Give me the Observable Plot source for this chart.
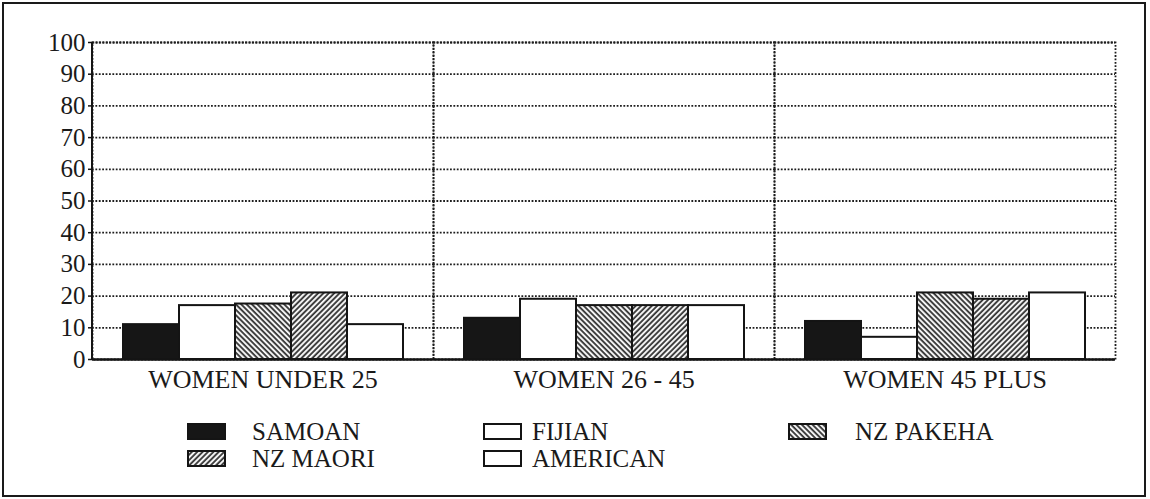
<!DOCTYPE html>
<html>
<head>
<meta charset="utf-8">
<script src="https://cdn.jsdelivr.net/npm/d3@7"></script>
<script src="https://cdn.jsdelivr.net/npm/@observablehq/plot@0.6"></script>
<style>
  html, body { margin: 0; padding: 0; background: #fff; }
  #frame {
    position: absolute; left: 2px; top: 2px;
    width: 1140px; height: 491px;
    border: 2px solid #1a1a1a; background: #fff;
    font-family: "Liberation Serif", "DejaVu Serif", serif; color: #1a1a1a;
  }
  #chart svg { display: block; }
  .swatch { position: absolute; width: 39px; height: 17px; }
  .swatch svg { display: block; }
  .label { position: absolute; height: 17px; display: flex; align-items: center; font-size: 25px; white-space: nowrap; }
</style>
</head>
<body>
<div id="frame">
  <div id="chart"></div>
  <div id="legend"></div>
</div>
<script>
// Age groups along the bottom and the five population series
const groups = ["WOMEN UNDER 25", "WOMEN 26 - 45", "WOMEN 45 PLUS"];
const series = ["SAMOAN", "FIJIAN", "NZ PAKEHA", "NZ MAORI", "AMERICAN"];

// Percentages per series, one value per age group
const samoan   = [11, 13, 12];
const fijian   = [17, 19, 7];
const pakeha   = [17.5, 17, 21];
const maori    = [21, 17, 19];
const american = [11, 17, 21];

const yTicks = [0, 10, 20, 30, 40, 50, 60, 70, 80, 90, 100];

// Solid, blank and hatched fills, one per series
const fills = ["#161616", "#ffffff", "url(#hatch-pakeha)", "url(#hatch-maori)", "#ffffff"];

const values = [samoan, fijian, pakeha, maori, american];
const data = groups.flatMap((g, i) =>
  series.map((s, j) => ({group: g, series: s, value: values[j][i]}))
);

const dotted = {stroke: "#1e1e1e", strokeWidth: 1.8, strokeDasharray: "1.8,1.6"};

const chart = Plot.plot({
  width: 1140,
  height: 400,
  marginLeft: 88,
  marginRight: 29,
  marginTop: 38,
  marginBottom: 45,
  style: {fontFamily: "Liberation Serif, DejaVu Serif, serif", color: "#1a1a1a", background: "white", overflow: "visible"},
  fx: {domain: groups, padding: 0, label: null},
  x: {domain: series, paddingInner: 0, paddingOuter: 0.54, axis: null},
  y: {domain: [0, 100], label: null},
  color: {domain: series, range: fills},
  marks: [
    Plot.ruleY(yTicks.filter(t => t > 0), dotted),
    Plot.frame(dotted),
    Plot.barY(data, {fx: "group", x: "series", y: "value", fill: "series", stroke: "#141414", strokeWidth: 2}),
    Plot.ruleY([0], {stroke: "#141414", strokeWidth: 2.5}),
    Plot.axisY({ticks: yTicks, tickSize: 4, tickPadding: 3, fontSize: 25, label: null, stroke: "#141414", strokeWidth: 1.5}),
    Plot.axisFx({tickSize: 0, tickPadding: 10, fontSize: 26, label: null, anchor: "bottom"})
  ]
});

// Hatch patterns used by the two striped series
const defs = d3.select(chart).insert("defs", ":first-child");
function hatch(id, angle) {
  const p = defs.append("pattern")
    .attr("id", id)
    .attr("patternUnits", "userSpaceOnUse")
    .attr("width", 3.8).attr("height", 3.8)
    .attr("patternTransform", `rotate(${angle})`);
  p.append("rect").attr("width", 3.8).attr("height", 3.8).attr("fill", "#f4f4f4");
  p.append("line").attr("x1", 1).attr("y1", 0).attr("x2", 1).attr("y2", 3.8)
    .attr("stroke", "#2a2a2a").attr("stroke-width", 1.7);
}
hatch("hatch-pakeha", -45);
hatch("hatch-maori", 45);

// Solid y-axis line along the left edge
const yScale = chart.scale("y");
d3.select(chart).append("line")
  .attr("x1", 88).attr("x2", 88)
  .attr("y1", yScale.apply(0)).attr("y2", yScale.apply(100))
  .attr("stroke", "#141414").attr("stroke-width", 2);

document.getElementById("chart").append(chart);

// Legend: three columns, filled row by row
const color = chart.scale("color");
const swatchLeft = [183, 479, 784];
const labelLeft = [248, 528, 851];
const rowTop = [419, 446];
const legend = d3.select("#legend");
series.forEach((s, i) => {
  const col = i % 3, row = Math.floor(i / 3);
  const sw = legend.append("div").attr("class", "swatch")
    .style("left", swatchLeft[col] + "px").style("top", rowTop[row] + "px")
    .append("svg").attr("width", 39).attr("height", 17);
  sw.append("rect").attr("x", 1).attr("y", 1).attr("width", 37).attr("height", 15)
    .attr("fill", color.apply(s)).attr("stroke", "#141414").attr("stroke-width", 2);
  legend.append("div").attr("class", "label")
    .style("left", labelLeft[col] + "px").style("top", rowTop[row] + "px")
    .text(s);
});
</script>
</body>
</html>
